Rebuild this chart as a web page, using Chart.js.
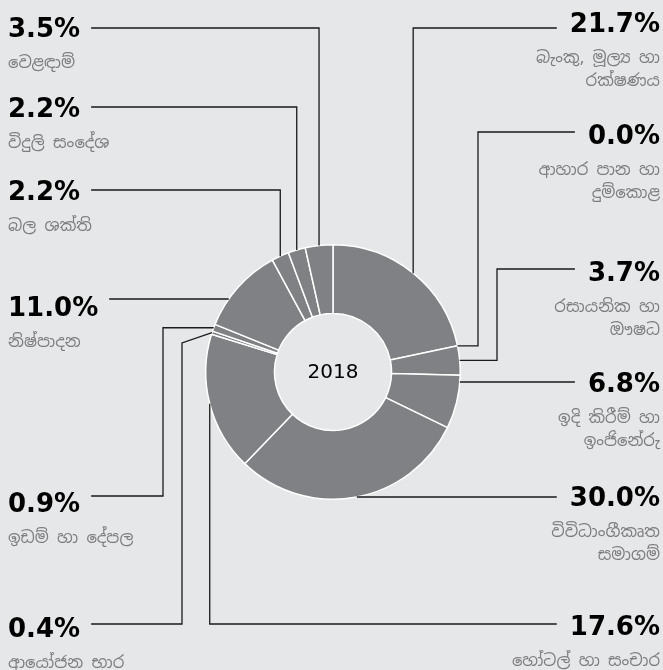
<!DOCTYPE html>
<html>
<head>
<meta charset="utf-8">
<script src="https://cdn.jsdelivr.net/npm/chart.js@4"></script>
<style>
  html, body { margin: 0; padding: 0; background: #e6e7e8; }
  canvas { display: block; }
</style>
</head>
<body>
<canvas id="chart" width="663" height="670"></canvas>
<script>
// sector shares, clockwise from the top
const categories = [
    ['බැංකු, මූල්‍ය හා', 'රක්ෂණය'],
    ['ආහාර පාන හා', 'දුම්කොළ'],
    ['රසායනික හා', 'ඖෂධ'],
    ['ඉදි කිරීම් හා', 'ඉංජිනේරු'],
    ['විවිධාංගීකෘත', 'සමාගම්'],
    ['හෝටල් හා සංචාර'],
    ['ආයෝජන භාර'],
    ['ඉඩම් හා දේපල'],
    ['නිෂ්පාදන'],
    ['බල ශක්ති'],
    ['විදුලි සංදේශ'],
    ['වෙළඳාම්']
];
const values = [21.7, 0.0, 3.7, 6.8, 30.0, 17.6, 0.4, 0.9, 11.0, 2.2, 2.2, 3.5];
const centerLabel = '2018';

// where each callout sits (side, text y, leader line y, routing)
const callouts = [
    { side: 'R', ty: 22,  ly: 28,  route: 'up' },
    { side: 'R', ty: 134, ly: 132, route: 'elbow', ex: 478 },
    { side: 'R', ty: 271, ly: 269, route: 'elbow', ex: 497 },
    { side: 'R', ty: 382, ly: 382, route: 'flat' },
    { side: 'R', ty: 496, ly: 497, route: 'flat' },
    { side: 'R', ty: 625, ly: 624, route: 'up' },
    { side: 'L', ty: 627, ly: 624, route: 'slant', ex: 182, ey: 343 },
    { side: 'L', ty: 502, ly: 496, route: 'elbow', ex: 163 },
    { side: 'L', ty: 306, ly: 299, route: 'flat' },
    { side: 'L', ty: 190, ly: 190, route: 'up' },
    { side: 'L', ty: 107, ly: 107, route: 'up' },
    { side: 'L', ty: 27,  ly: 28,  route: 'up' }
];

const numFont = 'bold 26px "DejaVu Sans", sans-serif';
const catFont = '16.5px "Noto Sans Sinhala", "Noto Sans", sans-serif';

const calloutPlugin = {
    id: 'callouts',
    afterDraw(chart) {
        const ctx = chart.ctx;
        const arcs = chart.getDatasetMeta(0).data;
        ctx.save();

        // centre text
        ctx.fillStyle = '#000';
        ctx.font = '20px "DejaVu Sans", sans-serif';
        ctx.textAlign = 'center';
        ctx.textBaseline = 'middle';
        ctx.fillText(centerLabel, arcs[0].x, arcs[0].y + 1);

        callouts.forEach((c, i) => {
            const arc = arcs[i];
            const cx = arc.x, cy = arc.y, r = arc.outerRadius;
            const mid = (arc.startAngle + arc.endAngle) / 2;
            const ax = cx + r * Math.cos(mid);
            const ay = cy + r * Math.sin(mid);
            const txt = values[i].toFixed(1) + '%';

            ctx.font = numFont;
            const w = ctx.measureText(txt).width;
            const endX = c.side === 'L' ? 8 + w + 11 : 660 - w - 13;

            const pts = [];
            if (c.route === 'flat') {
                const dx = Math.sqrt(Math.max(r * r - (c.ly - cy) ** 2, 0));
                pts.push([c.side === 'L' ? cx - dx : cx + dx, c.ly]);
            } else if (c.route === 'up') {
                pts.push([ax, ay], [ax, c.ly]);
            } else if (c.route === 'elbow') {
                pts.push([ax, ay], [c.ex, ay], [c.ex, c.ly]);
            } else if (c.route === 'slant') {
                pts.push([ax, ay], [c.ex, c.ey], [c.ex, c.ly]);
            }
            pts.push([endX, c.ly]);

            ctx.strokeStyle = '#1a1a1a';
            ctx.lineWidth = 1.3;
            ctx.beginPath();
            pts.forEach((p, k) => k ? ctx.lineTo(p[0], p[1]) : ctx.moveTo(p[0], p[1]));
            ctx.stroke();

            // value
            ctx.fillStyle = '#000';
            ctx.textBaseline = 'alphabetic';
            ctx.textAlign = c.side === 'L' ? 'left' : 'right';
            const tx = c.side === 'L' ? 8 : 660;
            ctx.fillText(txt, tx, c.ty + 9.5);

            // category name
            ctx.font = catFont;
            ctx.fillStyle = '#7d7d7f';
            ctx.textBaseline = 'middle';
            categories[i].forEach((line, k) => {
                ctx.fillText(line, tx, c.ty + 36 + k * 23);
            });
        });
        ctx.restore();
    }
};

new Chart(document.getElementById('chart'), {
    type: 'doughnut',
    data: {
        labels: categories.map(c => c.join(' ')),
        datasets: [{
            data: values,
            backgroundColor: '#808184',
            borderColor: '#ffffff',
            borderWidth: 1.5
        }]
    },
    options: {
        responsive: false,
        animation: false,
        cutout: '46%',
        layout: { padding: { left: 205, right: 202, top: 244, bottom: 170 } },
        plugins: {
            legend: { display: false },
            tooltip: { enabled: false }
        }
    },
    plugins: [calloutPlugin]
});
</script>
</body>
</html>
